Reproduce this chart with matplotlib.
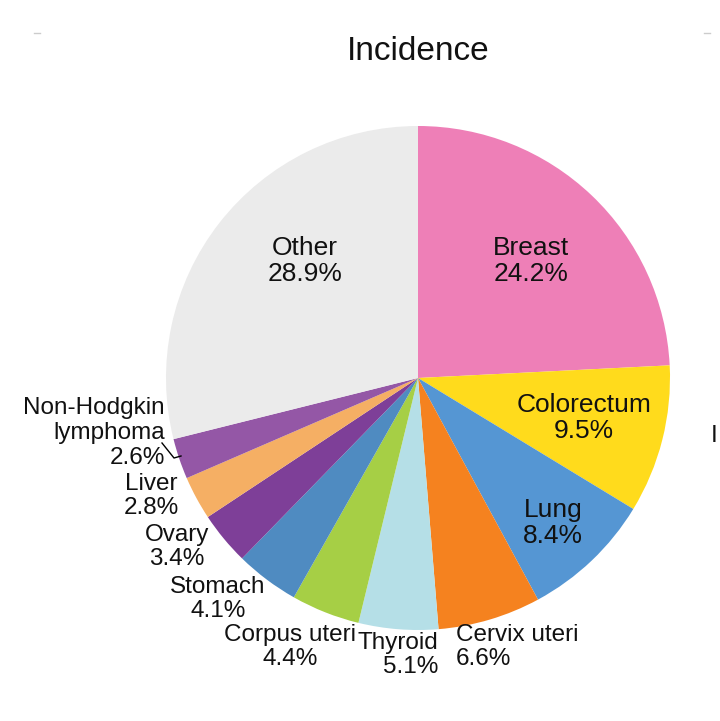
import matplotlib
matplotlib.use("Agg")
import matplotlib.pyplot as plt

plt.rcParams['font.family'] = ['Liberation Sans', 'DejaVu Sans']

categories = ["Breast", "Colorectum", "Lung", "Cervix uteri", "Thyroid",
              "Corpus uteri", "Stomach", "Ovary", "Liver",
              "Non-Hodgkin\nlymphoma", "Other"]
values = [24.2, 9.5, 8.4, 6.6, 5.1, 4.4, 4.1, 3.4, 2.8, 2.6, 28.9]
colors = ["#EE7FB7", "#FFDB1C", "#5596D3", "#F5821F", "#B5DFE7",
          "#A6CF45", "#4F8BC1", "#7E3F98", "#F5AF64", "#9457A6", "#EBEBEB"]
title = "Incidence"

# layout (pixel coordinates, y downwards)
W, H = 720, 721
CX, CY, R = 418, 378, 252

fig = plt.figure(figsize=(W / 100, H / 100), dpi=100)
ax = fig.add_axes([0, 0, 1, 1])
ax.pie(values, colors=colors, center=(CX, CY), radius=R,
       startangle=-90, counterclock=True,
       wedgeprops=dict(linewidth=0))
ax.set_xlim(0, W)
ax.set_ylim(H, 0)
ax.set_aspect('auto')
ax.axis('off')

def lab(i):
    return f"{categories[i]}\n{values[i]:.1f}%"

# inside labels
inside = {0: (531, 261), 1: (584, 418), 2: (553, 523), 10: (305, 261)}
for i, (x, y) in inside.items():
    ax.text(x, y, lab(i), ha='center', va='center', fontsize=19,
            color='#111111', linespacing=1.13)

# outside labels: (x, y, ha)
outside = {
    3: (456, 647, 'left'),
    4: (438, 655, 'right'),
    5: (290, 647, 'center'),
    6: (218, 599, 'center'),
    7: (177, 547, 'center'),
    8: (151, 496, 'center'),
    9: (165, 433, 'right'),
}
for i, (x, y, ha) in outside.items():
    ax.text(x, y, lab(i), ha=ha, va='center', fontsize=17.5,
            color='#111111', linespacing=1.15, multialignment=ha)

# leader line for Non-Hodgkin lymphoma
ax.plot([162, 174, 181], [443, 458, 456], color='black', lw=1)

ax.text(418, 51, title, ha='center', va='center', fontsize=24, color='#111111')

# cropped neighbouring panel remnants
ax.text(711, 436, "I", ha='left', va='center', fontsize=17.5, color='#111111')
ax.plot([34, 40], [33, 33], color='#cccccc', lw=1)
ax.plot([704, 710], [33, 33], color='#cccccc', lw=1)

fig.savefig("out.png", dpi=100)
